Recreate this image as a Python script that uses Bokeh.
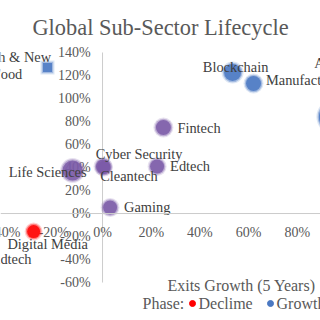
from bokeh.plotting import figure
from bokeh.models import Range1d, Span, Label, ColumnDataSource
from bokeh.core.properties import value
from bokeh.embed import file_html
from bokeh.resources import INLINE

# --- data -----------------------------------------------------------------
sectors = ["Agtech & New\nFood", "Blockchain", "Advanced\nManufacturing & Robotics",
           "AI, Big Data & Analytics", "Fintech", "Edtech", "Cyber Security",
           "Cleantech", "Life Sciences", "Gaming", "Digital Media", "Adtech"]
exits_growth = [-22.6, 53.4, 62.0, 95.0, 25.0, 22.4, 0.2, 0.6, -12.3, 3.1, -28.3, -50.0]
funding_growth = [127.0, 122.6, 113.0, 84.0, 74.8, 40.9, 40.9, 40.0, 37.4, 5.2, -15.7, -28.0]
phase = ["Emerging", "Growth", "Growth", "Growth", "Mature", "Mature", "Mature",
         "Mature", "Mature", "Mature", "Decline", "Decline"]
bubble_size = [9, 17, 15, 30, 15, 14, 14, 13, 20, 14, 13, 13]

x_ticks = [-40, -20, 0, 20, 40, 60, 80, 100]
y_ticks = [-60, -40, -20, 0, 20, 40, 60, 80, 100, 120, 140]
tick_fmt = lambda v: f"{v}%"

phase_colors = {"Decline": "#ff0000", "Growth": "#4a78c2", "Emerging": "#4a78c2",
                "Mature": "#7b5aa8"}
phase_marker = {"Decline": "circle", "Growth": "circle", "Emerging": "square",
                "Mature": "circle"}

# label placement (screen px offsets from each point, alignment)
label_style = {
    "Agtech & New\nFood": (-40, -2, "center"),
    "Blockchain": (3, -6, "center"),
    "Advanced\nManufacturing & Robotics": (90, -12, "center"),
    "AI, Big Data & Analytics": (20, 0, "left"),
    "Fintech": (14, 1, "left"),
    "Edtech": (13, 0, "left"),
    "Cyber Security": (36, -12, "center"),
    "Cleantech": (25, 8, "center"),
    "Life Sciences": (14, 1, "right"),
    "Gaming": (14, -1, "left"),
    "Digital Media": (14, 12, "center"),
    "Adtech": (30, 13, "center"),
}

SERIF = value("Liberation Serif")
GREY = "#595959"

p = figure(width=320, height=320, output_backend="svg", toolbar_location=None,
           x_axis_location=None, y_axis_location=None, min_border=0,
           x_range=Range1d(-41.9, 89.5), y_range=Range1d(-93.0, 185.2))
p.grid.visible = False
p.outline_line_color = None
p.background_fill_color = "white"
p.border_fill_color = "white"

# axes crossing at the origin
p.add_layout(Span(location=0, dimension="width", line_color="#cccccc", line_width=1))
p.segment(x0=[0], y0=[min(y_ticks)], x1=[0], y1=[max(y_ticks)],
          line_color="#cccccc", line_width=1)

# tick labels
p.text(x=[0] * len(y_ticks), y=y_ticks, text=[tick_fmt(v) for v in y_ticks],
       x_offset=-12, text_align="right", text_baseline="middle",
       text_font=SERIF, text_font_size="14px", text_color=GREY)
p.text(x=x_ticks, y=[0] * len(x_ticks), text=[tick_fmt(v) for v in x_ticks],
       y_offset=19, text_align="center", text_baseline="middle",
       text_font=SERIF, text_font_size="14px", text_color=GREY)

# bubbles, drawn with a soft edge
src = ColumnDataSource(dict(
    x=exits_growth, y=funding_growth,
    color=[phase_colors[ph] for ph in phase],
    marker=[phase_marker[ph] for ph in phase],
    s0=[s + 5 for s in bubble_size],
    s1=[s + 2.5 for s in bubble_size],
    s2=bubble_size,
))
p.scatter("x", "y", size="s0", marker="marker", fill_color="color", fill_alpha=0.18,
          line_color=None, source=src)
p.scatter("x", "y", size="s1", marker="marker", fill_color="color", fill_alpha=0.4,
          line_color=None, source=src)
p.scatter("x", "y", size="s2", marker="marker", fill_color="color", fill_alpha=0.85,
          line_color=None, source=src)

# data labels
for name, xv, yv in zip(sectors, exits_growth, funding_growth):
    dx, dy, align = label_style[name]
    p.text(x=[xv], y=[yv], text=[name], x_offset=dx, y_offset=dy,
           text_align=align, text_baseline="middle", text_line_height=1.1,
           text_font=SERIF, text_font_size="14.4px", text_color="#404040")

# title, axis title and legend line
p.add_layout(Label(x=160, y=293, x_units="screen", y_units="screen",
                   text="Global Sub-Sector Lifecycle", text_align="center",
                   text_baseline="middle", text_font="Liberation Serif",
                   text_font_size="22.4px", text_color=GREY))
p.add_layout(Label(x=241, y=35, x_units="screen", y_units="screen",
                   text="Exits Growth (5 Years)", text_align="center",
                   text_baseline="middle", text_font="Liberation Serif",
                   text_font_size="16px", text_color=GREY))

legend_y = 17
p.add_layout(Label(x=142, y=legend_y, x_units="screen", y_units="screen",
                   text="Phase:", text_align="left", text_baseline="middle",
                   text_font="Liberation Serif", text_font_size="16px", text_color=GREY))
legend_items = [("Declime", phase_colors["Decline"], 192),
                ("Growth", phase_colors["Growth"], 270),
                ("Mature", phase_colors["Mature"], 344)]
for txt, col, lx in legend_items:
    p.scatter(x=[-41.9 + (lx / 320) * (89.5 + 41.9)],
              y=[-93.0 + (legend_y / 320) * (185.2 + 93.0)],
              size=6, color=col)
    p.add_layout(Label(x=lx + 6, y=legend_y, x_units="screen", y_units="screen",
                       text=txt, text_align="left", text_baseline="middle",
                       text_font="Liberation Serif", text_font_size="16px",
                       text_color=GREY))

open("out.html", "w").write(file_html(p, INLINE))
